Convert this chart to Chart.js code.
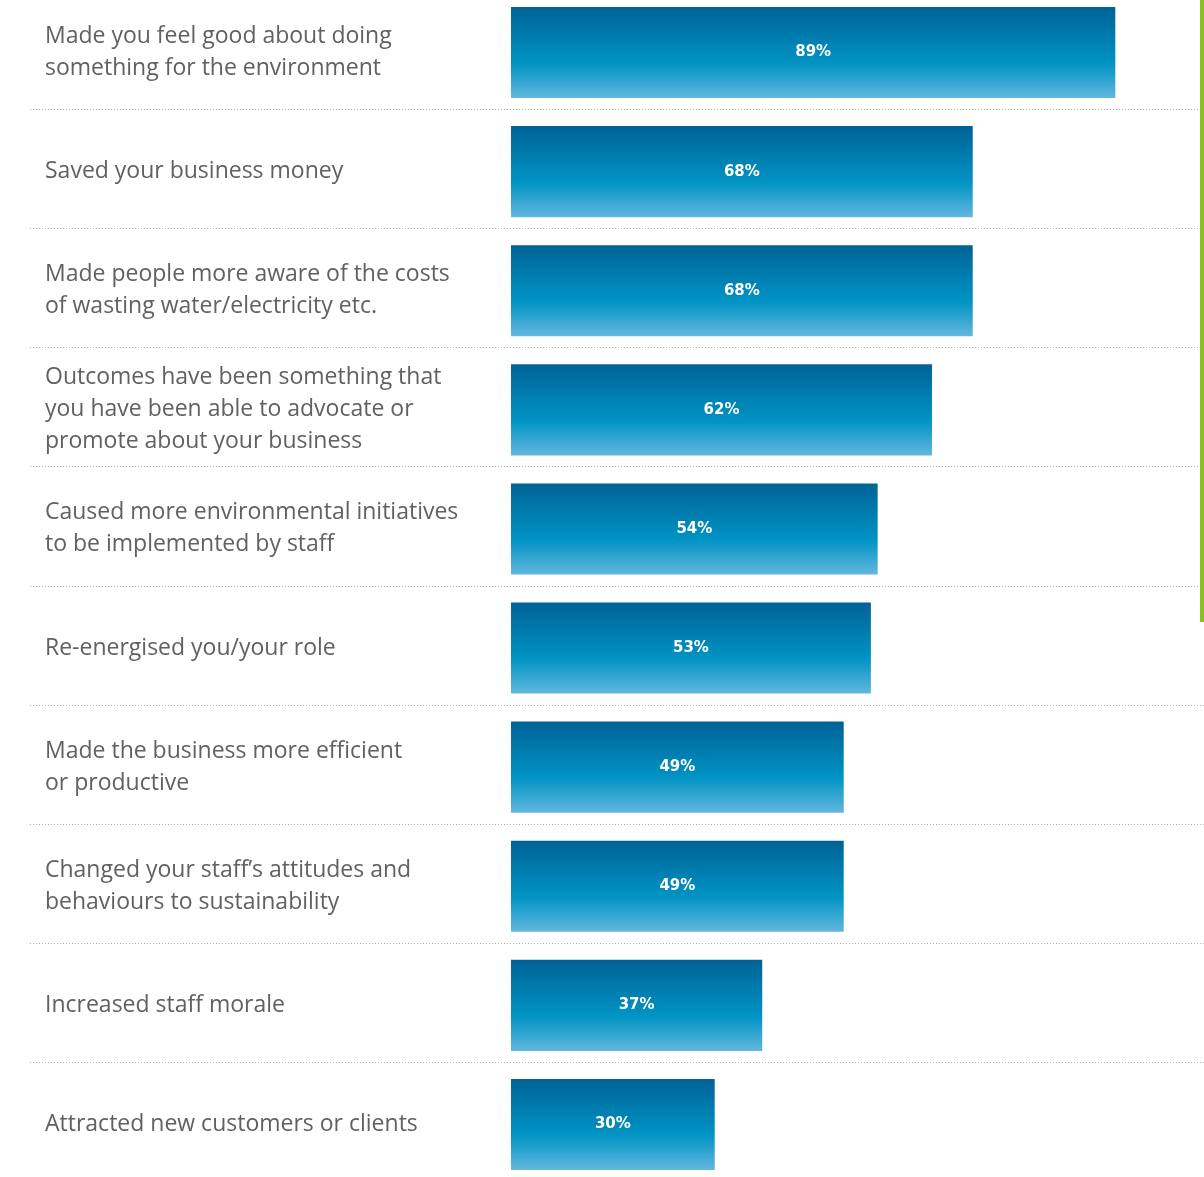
<!DOCTYPE html>
<html>
<head>
<meta charset="utf-8">
<script src="https://cdn.jsdelivr.net/npm/chart.js@4"></script>
<style>
    html, body { margin: 0; padding: 0; background: #fff; overflow: hidden; }
    #page { position: relative; width: 1204px; height: 1177px; overflow: hidden; }
    #chartBox { position: absolute; left: 0; top: -7px; width: 1204px; height: 1191px; }
    #greenBar { position: absolute; left: 1200px; top: 0; width: 4px; height: 622px; background: #8cc021; }
</style>
</head>
<body>
<div id="page">
    <div id="chartBox"><canvas id="benefitChart"></canvas></div>
    <div id="greenBar"></div>
</div>
<script>
// categories (multi-line labels as arrays)
const categories = [
    ['Made you feel good about doing', 'something for the environment'],
    ['Saved your business money'],
    ['Made people more aware of the costs', 'of wasting water/electricity etc.'],
    ['Outcomes have been something that', 'you have been able to advocate or', 'promote about your business'],
    ['Caused more environmental initiatives', 'to be implemented by staff'],
    ['Re-energised you/your role'],
    ['Made the business more efficient', 'or productive'],
    ['Changed your staff\u2019s attitudes and', 'behaviours to sustainability'],
    ['Increased staff morale'],
    ['Attracted new customers or clients']
];

// percentage of respondents
const percentages = [89, 68, 68, 62, 54, 53, 49, 49, 37, 30];

const BAR_PCT = 0.765;

// vertical gradient for each bar, computed from the y scale
function barGradient(context) {
    const chart = context.chart;
    const yScale = chart.scales.y;
    if (!yScale || context.dataIndex === undefined) return '#0084b8';
    const center = yScale.getPixelForValue(context.dataIndex);
    const half = (yScale.height / categories.length) * BAR_PCT / 2;
    if (!isFinite(center) || !isFinite(half) || half <= 0) return '#0084b8';
    const g = chart.ctx.createLinearGradient(0, center - half, 0, center + half);
    g.addColorStop(0, '#006296');
    g.addColorStop(0.62, '#0094c4');
    g.addColorStop(1, '#63b7df');
    return g;
}

// dotted separators between rows
const separators = {
    id: 'separators',
    beforeDatasetsDraw(chart) {
        const ctx = chart.ctx;
        const yScale = chart.scales.y;
        ctx.save();
        ctx.strokeStyle = '#b3b3b3';
        ctx.lineWidth = 1;
        ctx.setLineDash([1, 2]);
        for (let i = 0; i < categories.length - 1; i++) {
            const y = Math.round((yScale.getPixelForValue(i) + yScale.getPixelForValue(i + 1)) / 2 - 3) + 0.5;
            ctx.beginPath();
            ctx.moveTo(30, y);
            ctx.lineTo(chart.width, y);
            ctx.stroke();
        }
        ctx.restore();
    }
};

// white value labels in the middle of each bar
const valueLabels = {
    id: 'valueLabels',
    afterDatasetsDraw(chart) {
        const ctx = chart.ctx;
        const meta = chart.getDatasetMeta(0);
        ctx.save();
        ctx.fillStyle = '#ffffff';
        ctx.font = 'bold 15px "DejaVu Sans"';
        ctx.textAlign = 'center';
        ctx.textBaseline = 'middle';
        meta.data.forEach((bar, i) => {
            ctx.fillText(percentages[i] + '%', (bar.x + bar.base) / 2, bar.y);
        });
        ctx.restore();
    }
};

document.addEventListener('DOMContentLoaded', () => {
    const ctx = document.querySelector('#benefitChart').getContext('2d');

    new Chart(ctx, {
        type: 'bar',
        data: {
            labels: categories,
            datasets: [{
                data: percentages,
                backgroundColor: barGradient,
                borderWidth: 0,
                barPercentage: BAR_PCT,
                categoryPercentage: 1
            }]
        },
        plugins: [separators, valueLabels],
        options: {
            indexAxis: 'y',
            responsive: true,
            maintainAspectRatio: false,
            animation: false,
            layout: { padding: { left: 45, right: 14, top: 0, bottom: 0 } },
            plugins: {
                legend: { display: false },
                tooltip: { enabled: false }
            },
            scales: {
                x: {
                    display: false,
                    min: 0,
                    max: 100
                },
                y: {
                    offset: true,
                    border: { display: false },
                    grid: { display: false },
                    afterFit(scale) {
                        scale.width = 466;
                        scale.paddingTop = 0;
                        scale.paddingBottom = 0;
                    },
                    ticks: {
                        autoSkip: false,
                        crossAlign: 'far',
                        color: '#616161',
                        font: { family: '"Open Sans"', size: 23, lineHeight: 32 / 23 }
                    }
                }
            }
        }
    });
});
</script>
</body>
</html>
